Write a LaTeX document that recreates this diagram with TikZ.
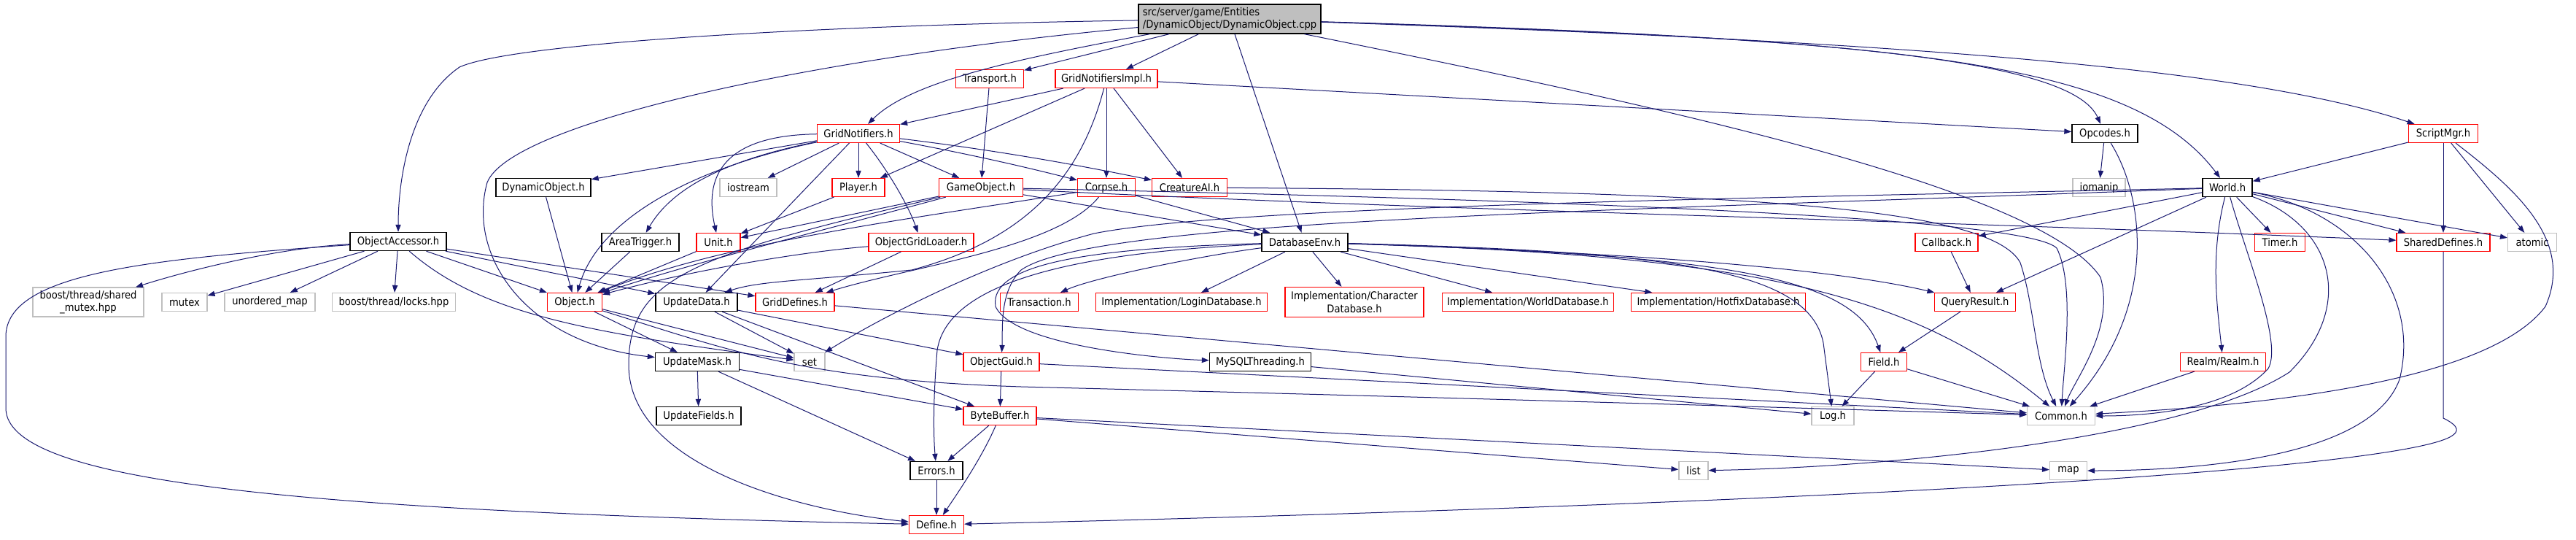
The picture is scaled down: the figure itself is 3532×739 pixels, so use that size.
\documentclass[tikz,border=0pt]{standalone}
\usepackage{fontspec}
\setmainfont{DejaVu Sans Condensed}
\usetikzlibrary{arrows.meta}
\definecolor{edgec}{HTML}{191970}
\definecolor{grayb}{HTML}{BFBFBF}
\definecolor{redb}{HTML}{FF0000}
\begin{document}
\begin{tikzpicture}[x=0.5pt,y=-0.5pt,
  base/.style={rectangle, inner sep=1pt, minimum height=12.5pt, font=\fontsize{7.3pt}{8.6pt}\selectfont, line width=0.6pt, align=center, fill=white},
  blackbox/.style={base, draw=black, line width=0.7pt},
  redbox/.style={base, draw=redb},
  graybox/.style={base, draw=grayb},
  mainbox/.style={base, draw=black, line width=0.7pt, fill=grayb, align=left},
  e/.style={draw=edgec, line width=0.5pt, -{Triangle[length=5pt,width=3.6pt,fill=edgec]}}]
\useasboundingbox[fill=white] (0,0) rectangle (3532,739);
% nodes
\node[mainbox, minimum width=125pt, minimum height=20pt] (main) at (1686,26) {src/server/game/Entities\\/DynamicObject/DynamicObject.cpp};
\node[blackbox, minimum width=66pt] (oacc) at (546,331) {ObjectAccessor.h};
\node[blackbox, minimum width=65pt] (dyno) at (745,257) {DynamicObject.h};
\node[blackbox, minimum width=53pt] (areat) at (878,332) {AreaTrigger.h};
\node[redbox, minimum width=46.5pt] (transp) at (1357,108) {Transport.h};
\node[redbox, minimum width=70pt] (gnimpl) at (1517,108) {GridNotifiersImpl.h};
\node[redbox, minimum width=56.5pt] (gnot) at (1177,183) {GridNotifiers.h};
\node[graybox, minimum width=39pt] (iostr) at (1026,257) {iostream};
\node[redbox, minimum width=36pt] (player) at (1177,257) {Player.h};
\node[redbox, minimum width=57.5pt] (gobj) at (1345,257) {GameObject.h};
\node[redbox, minimum width=39.5pt] (corpse) at (1517,257) {Corpse.h};
\node[redbox, minimum width=51.5pt] (cai) at (1631,257) {CreatureAI.h};
\node[redbox, minimum width=30pt] (unit) at (985,332) {Unit.h};
\node[redbox, minimum width=72pt] (ogl) at (1263,332) {ObjectGridLoader.h};
\node[blackbox, minimum width=59pt] (dbenv) at (1789,332) {DatabaseEnv.h};
\node[redbox, minimum width=53.5pt] (trans) at (1425,414) {Transaction.h};
\node[redbox, minimum width=117.5pt] (logindb) at (1620,414) {Implementation/LoginDatabase.h};
\node[redbox, minimum width=95pt, minimum height=20.5pt] (chardb) at (1857,414) {Implementation/Character\\Database.h};
\node[redbox, minimum width=117.5pt] (worlddb) at (2095,414) {Implementation/WorldDatabase.h};
\node[redbox, minimum width=119.5pt] (hotfixdb) at (2356,414) {Implementation/HotfixDatabase.h};
\node[redbox, minimum width=55.5pt] (qres) at (2708,414) {QueryResult.h};
\node[redbox, minimum width=43pt] (callback) at (2669,332) {Callback.h};
\node[redbox, minimum width=31.5pt] (field) at (2583,496) {Field.h};
\node[graybox, minimum width=29pt] (logh) at (2513,570) {Log.h};
\node[graybox, minimum width=20pt] (listh) at (2322,645) {list};
\node[blackbox, minimum width=45pt] (opcodes) at (2886,183) {Opcodes.h};
\node[graybox, minimum width=36pt] (iomanip) at (2878,257) {iomanip};
\node[blackbox, minimum width=34pt] (world) at (3054,257) {World.h};
\node[redbox, minimum width=47.5pt] (scriptmgr) at (3350,183) {ScriptMgr.h};
\node[redbox, minimum width=34.5pt] (timer) at (3126,332) {Timer.h};
\node[redbox, minimum width=64pt] (shdef) at (3350,332) {SharedDefines.h};
\node[graybox, minimum width=33.5pt] (atomic) at (3472,332) {atomic};
\node[redbox, minimum width=58.5pt] (realm) at (3048,496) {Realm/Realm.h};
\node[graybox, minimum width=46.5pt] (common) at (2826,570) {Common.h};
\node[graybox, minimum width=25.5pt] (maph) at (2836,645) {map};
\node[graybox, minimum width=76pt, minimum height=20pt] (shmutex) at (121,414) {boost/thread/shared\\\_mutex.hpp};
\node[graybox, minimum width=31pt] (mutex) at (253,414) {mutex};
\node[graybox, minimum width=62pt] (umap) at (370,414) {unordered\_map};
\node[graybox, minimum width=84.5pt] (locks) at (540,414) {boost/thread/locks.hpp};
\node[redbox, minimum width=37.5pt] (object) at (788,414) {Object.h};
\node[blackbox, minimum width=56pt] (updata) at (955,414) {UpdateData.h};
\node[redbox, minimum width=54pt] (griddef) at (1090,414) {GridDefines.h};
\node[blackbox, minimum width=57.5pt] (upmask) at (956,496) {UpdateMask.h};
\node[graybox, minimum width=21pt] (seth) at (1110,496) {set};
\node[redbox, minimum width=52pt] (oguid) at (1373,496) {ObjectGuid.h};
\node[blackbox, minimum width=69.5pt] (mysqlt) at (1728,496) {MySQLThreading.h};
\node[blackbox, minimum width=58pt] (upfields) at (958,570) {UpdateFields.h};
\node[redbox, minimum width=50pt] (bytebuf) at (1371,570) {ByteBuffer.h};
\node[blackbox, minimum width=36pt] (errors) at (1284,645) {Errors.h};
\node[redbox, minimum width=37.5pt] (define) at (1284,719) {Define.h};
% edges from main
\draw[e] (main) .. controls (1100,35) and (700,60) .. (630,92) .. controls (560,140) and (546,250) .. (oacc);
\draw[e] (main) .. controls (1100,80) and (700,170) .. (668,250) .. controls (640,350) and (720,470) .. (upmask);
\draw[e] (main) .. controls (1400,80) and (1250,110) .. (gnot);
\draw[e] (main) -- (transp);
\draw[e] (main) -- (gnimpl);
\draw[e] (main) -- (dbenv);
\draw[e] (main) .. controls (2300,150) and (2800,260) .. (2880,380) .. controls (2900,450) and (2845,520) .. (common);
\draw[e] (main) .. controls (2500,50) and (2840,80) .. (opcodes);
\draw[e] (main) .. controls (2600,55) and (2920,80) .. (world);
\draw[e] (main) .. controls (2700,60) and (3100,100) .. (scriptmgr);
% GridNotifiersImpl
\draw[e] (gnimpl) -- (gnot);
\draw[e] (gnimpl) -- (player);
\draw[e] (gnimpl) -- (corpse);
\draw[e] (gnimpl) -- (cai);
\draw[e] (gnimpl) -- (opcodes);
\draw[e] (gnimpl) .. controls (1480,250) and (1400,330) .. (1250,370) .. controls (1100,385) and (1040,385) .. (updata);
% Transport
\draw[e] (transp) -- (gobj);
% GridNotifiers
\draw[e] (gnot) -- (dyno);
\draw[e] (gnot) .. controls (950,230) and (820,300) .. (object);
\draw[e] (gnot) .. controls (990,220) and (920,260) .. (areat);
\draw[e] (gnot) .. controls (1020,185) and (960,220) .. (unit);
\draw[e] (gnot) -- (iostr);
\draw[e] (gnot) -- (updata);
\draw[e] (gnot) -- (player);
\draw[e] (gnot) .. controls (1215,230) and (1245,280) .. (ogl);
\draw[e] (gnot) -- (gobj);
\draw[e] (gnot) .. controls (1350,215) and (1430,235) .. (corpse);
\draw[e] (gnot) .. controls (1400,210) and (1520,235) .. (cai);
% Player, GameObject, Corpse, CreatureAI
\draw[e] (player) -- (unit);
\draw[e] (gobj) -- (unit);
\draw[e] (gobj) .. controls (1150,310) and (950,360) .. (object);
\draw[e] (gobj) .. controls (950,350) and (862,380) .. (862,500) .. controls (862,640) and (1100,700) .. (define);
\draw[e] (gobj) -- (dbenv);
\draw[e] (gobj) .. controls (2200,275) and (2780,300) .. (2820,340) .. controls (2845,390) and (2830,500) .. (common);
\draw[e] (gobj) .. controls (2000,290) and (2600,300) .. (shdef);
\draw[e] (corpse) .. controls (1250,300) and (1000,330) .. (object);
\draw[e] (corpse) .. controls (1450,340) and (1250,365) .. (griddef);
\draw[e] (corpse) -- (dbenv);
\draw[e] (cai) .. controls (2400,262) and (2730,285) .. (2770,360) .. controls (2790,420) and (2790,500) .. (common);
% Unit, DynamicObject, AreaTrigger, ObjectGridLoader
\draw[e] (unit) -- (object);
\draw[e] (dyno) -- (object);
\draw[e] (areat) -- (object);
\draw[e] (ogl) .. controls (1100,345) and (950,370) .. (object);
\draw[e] (ogl) -- (griddef);
% ObjectAccessor
\draw[e] (oacc) .. controls (380,340) and (260,370) .. (shmutex);
\draw[e] (oacc) -- (mutex);
\draw[e] (oacc) -- (umap);
\draw[e] (oacc) -- (locks);
\draw[e] (oacc) -- (object);
\draw[e] (oacc) -- (updata);
\draw[e] (oacc) -- (griddef);
\draw[e] (oacc) .. controls (660,430) and (800,455) .. (seth);
\draw[e] (oacc) .. controls (200,355) and (10,375) .. (8,460) -- (8,560) .. controls (10,660) and (400,700) .. (define);
% Object, UpdateData, GridDefines
\draw[e] (object) -- (upmask);
\draw[e] (object) -- (seth);
\draw[e] (object) .. controls (1000,480) and (1100,520) .. (1400,530) .. controls (2000,545) and (2500,560) .. (common);
\draw[e] (updata) -- (seth);
\draw[e] (updata) -- (bytebuf);
\draw[e] (updata) -- (oguid);
\draw[e] (griddef) -- (common);
% UpdateMask, ObjectGuid, ByteBuffer, Errors
\draw[e] (upmask) -- (upfields);
\draw[e] (upmask) -- (bytebuf);
\draw[e] (upmask) -- (errors);
\draw[e] (oguid) -- (bytebuf);
\draw[e] (oguid) -- (common);
\draw[e] (bytebuf) -- (errors);
\draw[e] (bytebuf) .. controls (1345,630) and (1310,680) .. (define);
\draw[e] (bytebuf) -- (listh);
\draw[e] (bytebuf) -- (maph);
\draw[e] (errors) -- (define);
% DatabaseEnv
\draw[e] (dbenv) .. controls (1500,345) and (1300,380) .. (1285,480) .. controls (1279,550) and (1280,600) .. (errors);
\draw[e] (dbenv) .. controls (1500,340) and (1355,360) .. (1365,420) .. controls (1390,475) and (1600,492) .. (mysqlt);
\draw[e] (dbenv) .. controls (1650,350) and (1500,380) .. (trans);
\draw[e] (dbenv) -- (logindb);
\draw[e] (dbenv) -- (chardb);
\draw[e] (dbenv) -- (worlddb);
\draw[e] (dbenv) -- (hotfixdb);
\draw[e] (dbenv) .. controls (2200,345) and (2500,365) .. (qres);
\draw[e] (dbenv) .. controls (2350,350) and (2540,375) .. (field);
\draw[e] (dbenv) .. controls (2300,345) and (2480,370) .. (2500,470) -- (logh);
\draw[e] (dbenv) .. controls (2400,350) and (2620,400) .. (common);
\draw[e] (mysqlt) -- (logh);
% Field, QueryResult, Callback
\draw[e] (field) -- (logh);
\draw[e] (field) -- (common);
\draw[e] (qres) -- (field);
\draw[e] (callback) -- (qres);
% Opcodes
\draw[e] (opcodes) -- (iomanip);
\draw[e] (opcodes) .. controls (2940,270) and (2960,420) .. (common);
% World
\draw[e] (world) -- (callback);
\draw[e] (world) -- (qres);
\draw[e] (world) -- (timer);
\draw[e] (world) -- (shdef);
\draw[e] (world) -- (atomic);
\draw[e] (world) .. controls (3030,350) and (3040,420) .. (realm);
\draw[e] (world) .. controls (3080,350) and (3130,470) .. (3110,505) .. controls (3060,560) and (2950,570) .. (common);
\draw[e] (world) .. controls (3230,290) and (3320,400) .. (3290,520) .. controls (3250,630) and (3000,645) .. (maph);
\draw[e] (world) .. controls (3200,310) and (3230,420) .. (3139,510) .. controls (3000,600) and (2600,640) .. (listh);
\draw[e] (world) .. controls (2500,270) and (1700,280) .. (1500,320) .. controls (1350,360) and (1200,440) .. (seth);
\draw[e] (world) .. controls (2200,290) and (1500,300) .. (1400,370) .. controls (1370,400) and (1375,450) .. (oguid);
% ScriptMgr
\draw[e] (scriptmgr) -- (world);
\draw[e] (scriptmgr) -- (shdef);
\draw[e] (scriptmgr) -- (atomic);
\draw[e] (scriptmgr) .. controls (3450,260) and (3530,330) .. (3490,420) .. controls (3400,540) and (3000,560) .. (common);
% Realm, SharedDefines
\draw[e] (realm) -- (common);
\draw[e] (shdef) -- (3350,573) .. controls (3385,590) and (3370,602) .. (3300,615) .. controls (3000,670) and (1900,705) .. (define);
\end{tikzpicture}
\end{document}
